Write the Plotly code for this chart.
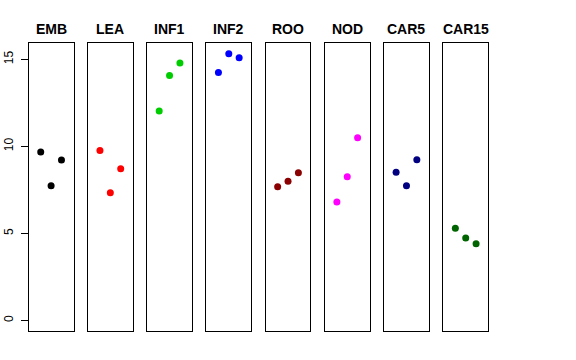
import plotly.graph_objects as go

W, H = 576, 360

panels = ["EMB", "LEA", "INF1", "INF2", "ROO", "NOD", "CAR5", "CAR15"]
x_vals = [1, 2, 3]
emb = [9.67, 7.74, 9.21]
lea = [9.77, 7.33, 8.71]
inf1 = [12.03, 14.08, 14.79]
inf2 = [14.25, 15.32, 15.09]
roo = [7.68, 7.99, 8.48]
nod = [6.80, 8.25, 10.49]
car5 = [8.51, 7.74, 9.23]
car15 = [5.30, 4.73, 4.40]
series = [emb, lea, inf1, inf2, roo, nod, car5, car15]
colors = ["#000000", "#FF0000", "#00CD00", "#0000FF", "#8B0000", "#FF00FF", "#000080", "#006400"]
y_ticks = [0, 5, 10, 15]

FONT = "Liberation Sans, Arial, Helvetica, sans-serif"

fig = go.Figure()
layout = dict(
    width=W, height=H,
    margin=dict(l=0, r=0, t=0, b=0, autoexpand=False),
    paper_bgcolor="white", plot_bgcolor="white",
    showlegend=False,
    font=dict(family=FONT, color="black"),
)

left0, step, pw = 28.7, 59.23, 44.8
top_px, bot_px = 43, 331
y_dom = [1 - bot_px / H, 1 - top_px / H]
ylo, yhi = 0.0, 15.33
ypad = (yhi - ylo) * 0.04
annotations = []
for i, (name, vals, col) in enumerate(zip(panels, series, colors)):
    k = "" if i == 0 else str(i + 1)
    l = left0 + step * i
    dom = [l / W, (l + pw) / W]
    fig.add_trace(go.Scatter(
        x=x_vals, y=vals, mode="markers",
        marker=dict(color=col, size=7, line=dict(width=0)),
        xaxis="x" + k, yaxis="y" + k, hoverinfo="skip",
    ))
    layout["xaxis" + k] = dict(
        domain=dom, range=[-0.16, 4.16], showgrid=False, zeroline=False,
        showticklabels=False, ticks="", showline=True, mirror=True,
        linecolor="black", linewidth=1, anchor="y" + k, fixedrange=True,
        automargin=False,
    )
    ya = dict(
        domain=y_dom, range=[ylo - ypad, yhi + ypad], showgrid=False, zeroline=False,
        showline=True, mirror=True, linecolor="black", linewidth=1,
        anchor="x" + k, fixedrange=True, automargin=False,
    )
    if i == 0:
        ya.update(tickmode="array", tickvals=y_ticks, ticktext=[str(t) for t in y_ticks],
                  ticks="outside", ticklen=7, tickcolor="black", tickwidth=1,
                  tickangle=-90, ticklabelstandoff=3,
                  tickfont=dict(size=12, family=FONT, color="black"))
    else:
        ya.update(showticklabels=False, ticks="")
    layout["yaxis" + k] = ya
    annotations.append(dict(
        text="<b>" + name + "</b>", x=(l + pw / 2) / W, y=1 - 29 / H,
        xref="paper", yref="paper", xanchor="center", yanchor="middle",
        showarrow=False, font=dict(size=14, family=FONT, color="black"),
    ))

layout["annotations"] = annotations
fig.update_layout(**layout)
fig.write_html("out.html", config={"displayModeBar": False},
               post_script="document.body.style.margin='0';document.body.style.overflow='hidden';")
